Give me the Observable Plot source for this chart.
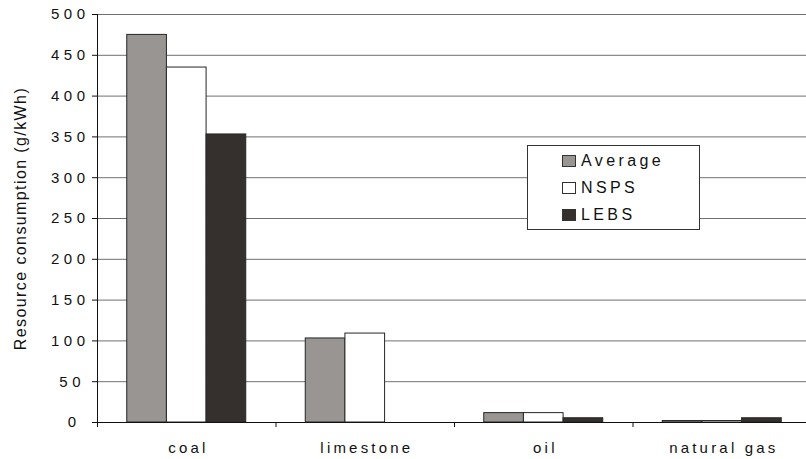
<!DOCTYPE html>
<html>
<head>
<meta charset="utf-8">
<script src="https://cdn.jsdelivr.net/npm/d3@7"></script>
<script src="https://cdn.jsdelivr.net/npm/@observablehq/plot@0.6"></script>
<style>
  html, body { margin: 0; padding: 0; background: #fff; overflow: hidden; }
  #wrap { position: relative; width: 806px; height: 459px; overflow: hidden; font-family: Arial, "Liberation Sans", sans-serif; }
  #legend { position: absolute; left: 527px; top: 145px; width: 171px; height: 82px; border: 1px solid #333; background: #fff; box-sizing: content-box; padding-top: 1px; }
  .row { display: flex; align-items: center; height: 27.3px; padding-left: 34px; }
  .sw { width: 14px; height: 12px; box-sizing: border-box; border: 1px solid #333; margin-right: 5px; }
  .lab { font-size: 16px; letter-spacing: 3.4px; color: #111; line-height: 1; }
</style>
</head>
<body>
<div id="wrap"></div>
<script>
// ---- data ----
const categories = ["coal", "limestone", "oil", "natural gas"];
const seriesNames = ["Average", "NSPS", "LEBS"];
const average = [475, 103, 11.5, 1.8];
const nsps = [435, 109, 11.5, 1.8];
const lebs = [353, 0, 5.2, 5.2];
const seriesColors = ["#999593", "#ffffff", "#35302e"];
const yTicks = [0, 50, 100, 150, 200, 250, 300, 350, 400, 450, 500];
const yLabel = "Resource consumption (g/kWh)";

const seriesValues = [average, nsps, lebs];
const rows = categories.flatMap((category, ci) =>
  seriesValues.map((vals, si) => ({ category, ci, series: seriesNames[si], si, value: vals[ci] }))
);

// grouped-bar layout inside each category band: gap of 0.75 bar on each side
const OUTER = 0.75;
const slots = seriesNames.length + 2 * OUTER;
const bx1 = d => d.ci + (OUTER + d.si) / slots;
const bx2 = d => d.ci + (OUTER + d.si + 1) / slots;

const LS = 4.5;       // letter spacing of tick labels
const CAT_LS = 3.2;   // letter spacing of category labels
const TITLE_LS = 1.4; // letter spacing of the y title

const tickLabelAxis = len => Plot.axisY(yTicks.filter(t => String(t).length === len), {
  tickSize: 0, tickPadding: 8, dx: (len - 3) * LS,
  fontSize: 15, fill: "#111", label: null
});

const chart = Plot.plot({
  width: 806,
  height: 459,
  marginTop: 14,
  marginBottom: 37,
  marginLeft: 97,
  marginRight: -5,
  style: { fontFamily: "Arial, 'Liberation Sans', sans-serif", background: "#fff", overflow: "hidden" },
  x: { domain: [0, categories.length] },
  y: { domain: [0, 500] },
  color: { domain: seriesNames, range: seriesColors },
  marks: [
    Plot.gridY(yTicks.filter(t => t > 0), { stroke: "#707070", strokeOpacity: 1 }),
    Plot.rect(rows, {
      x1: bx1, x2: bx2, y1: 0, y2: "value",
      fill: "series", stroke: "#262626", strokeWidth: 1
    }),
    Plot.ruleY([0], { stroke: "#111" }),
    Plot.ruleX([0], { stroke: "#111" }),
    // y ticks (outward) and labels
    Plot.axisY(yTicks, { tickSize: 5, tickFormat: () => "", stroke: "#111", label: null }),
    tickLabelAxis(1), tickLabelAxis(2), tickLabelAxis(3),
    // category boundary ticks
    Plot.axisX(d3.range(categories.length), { tickSize: 5, tickFormat: () => "", stroke: "#111", label: null }),
    // category labels
    Plot.text(categories, {
      x: (d, i) => i + 0.5, y: () => 0, dy: 26, dx: CAT_LS / 2,
      fontSize: 15, fill: "#111"
    }),
    // y axis title
    Plot.text([yLabel], {
      frameAnchor: "left", textAnchor: "middle", rotate: -90, dx: -77,
      fontSize: 16, fill: "#111"
    })
  ]
});

// apply letter spacing to the texts (the original's wide-tracked lettering)
d3.select(chart).selectAll("text").each(function () {
  const t = this.textContent;
  if (/^\d+$/.test(t)) this.style.letterSpacing = LS + "px";
  else if (categories.includes(t)) this.style.letterSpacing = CAT_LS + "px";
  else if (t === yLabel) this.style.letterSpacing = TITLE_LS + "px";
});

const wrap = document.getElementById("wrap");
wrap.appendChild(chart);

// legend (inside the plot area)
const legend = document.createElement("div");
legend.id = "legend";
seriesNames.forEach((name, i) => {
  const row = document.createElement("div");
  row.className = "row";
  const sw = document.createElement("div");
  sw.className = "sw";
  sw.style.background = seriesColors[i];
  const lab = document.createElement("span");
  lab.className = "lab";
  lab.textContent = name;
  row.appendChild(sw);
  row.appendChild(lab);
  legend.appendChild(row);
});
wrap.appendChild(legend);
</script>
</body>
</html>
